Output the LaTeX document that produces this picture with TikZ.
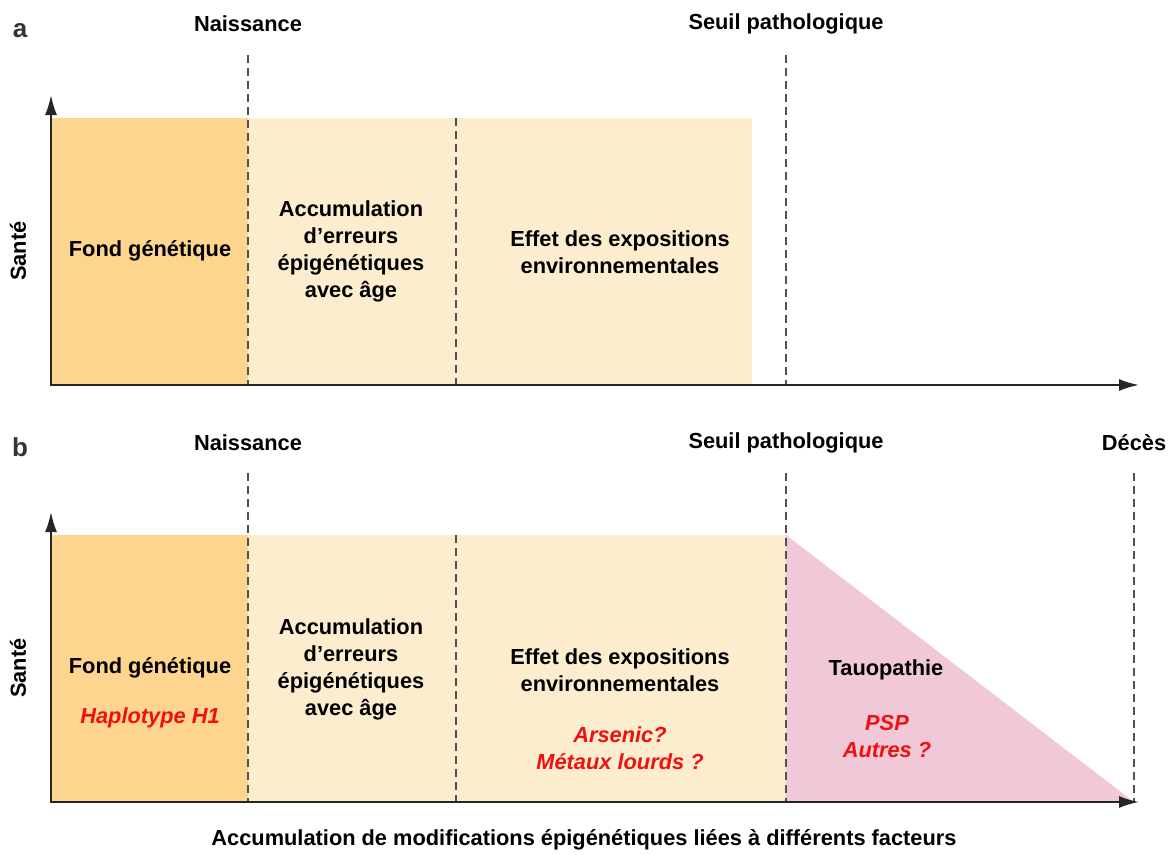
\documentclass[tikz,border=0pt]{standalone}
\usepackage{fontspec}
\setmainfont{Liberation Sans}
\usetikzlibrary{arrows.meta}
\definecolor{darkor}{HTML}{FDD58F}
\definecolor{lightor}{HTML}{FDEDCF}
\definecolor{pinkt}{HTML}{F0C8D8}
\definecolor{redt}{HTML}{F01010}
\definecolor{dashg}{HTML}{505050}
\begin{document}
\begin{tikzpicture}[x=1pt,y=-1pt,
  lbl/.style={font=\fontsize{21.8}{27}\selectfont\bfseries, text=black, align=center, inner sep=0pt},
  redlbl/.style={font=\fontsize{21.8}{27}\selectfont\bfseries\itshape, text=redt, align=center, inner sep=0pt},
  panel/.style={font=\fontsize{26}{30}\selectfont\bfseries, text=black!80, inner sep=0pt},
  vdash/.style={draw=dashg, line width=1.8pt, dash pattern=on 8pt off 5pt},
  axis/.style={draw=black!85, line width=2pt, -{Latex[length=20pt,width=12pt]}},
  ]
\useasboundingbox (0,0) rectangle (1174,854);
% ---------- panel a ----------
\fill[darkor] (51,118) rectangle (248,385);
\fill[lightor] (248,118) rectangle (752,385);
\coordinate (a0) at (51,386);
\coordinate (ay) at (51,95);
\coordinate (ax) at (1139,385);
\draw[vdash] (248,55) -- (248,385);
\draw[vdash] (456,118) -- (456,385);
\draw[vdash] (786,55) -- (786,385);
\draw[axis] (a0) -- (ay);
\draw[axis] (51,385) -- (ax);
\node[panel] (pa) at (20,31) {a};
\node[lbl] (na) at (248,24) {Naissance};
\node[lbl] (sa) at (786,24) {Seuil pathologique};
\node[lbl, rotate=90] (sta) at (18,251) {Santé};
\node[lbl] (fga) at (150,251) {Fond génétique};
\node[lbl] (acca) at (351,251) {Accumulation\\d’erreurs\\épigénétiques\\avec âge};
\node[lbl] (efa) at (620,252) {Effet des expositions\\environnementales};
% ---------- panel b ----------
\fill[darkor] (51,535) rectangle (248,802);
\fill[lightor] (248,535) rectangle (786,802);
\fill[pinkt] (786,535) -- (786,802) -- (1134,802) -- cycle;
\coordinate (b0) at (51,803);
\coordinate (by) at (51,512);
\coordinate (bx) at (1139,802);
\draw[vdash] (248,473) -- (248,802);
\draw[vdash] (456,535) -- (456,802);
\draw[vdash] (786,473) -- (786,802);
\draw[vdash] (1134,473) -- (1134,802);
\draw[axis] (b0) -- (by);
\draw[axis] (51,802) -- (bx);
\node[panel] (pb) at (20,447) {b};
\node[lbl] (nb) at (248,443) {Naissance};
\node[lbl] (sb) at (786,443) {Seuil pathologique};
\node[lbl] (db) at (1134,443) {Décès};
\node[lbl, rotate=90] (stb) at (18,668) {Santé};
\node[lbl] (fgb) at (150,668) {Fond génétique};
\node[redlbl] (h1) at (150,718) {Haplotype H1};
\node[lbl] (accb) at (351,669) {Accumulation\\d’erreurs\\épigénétiques\\avec âge};
\node[lbl] (efb) at (620,670) {Effet des expositions\\environnementales};
\node[redlbl] (ars) at (620,748) {Arsenic?\\Métaux lourds ?};
\node[lbl] (tau) at (886,670) {Tauopathie};
\node[redlbl] (psp) at (887,736) {PSP\\Autres ?};
\node[lbl] (cap) at (584,840) {Accumulation de modifications épigénétiques liées à différents facteurs};
\end{tikzpicture}
\end{document}
